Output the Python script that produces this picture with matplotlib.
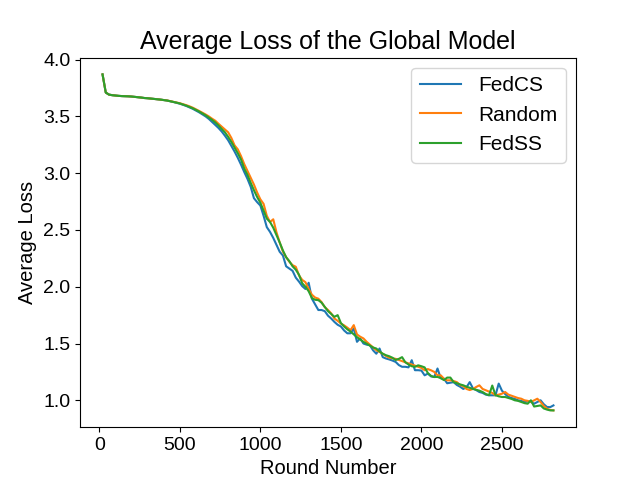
import matplotlib
matplotlib.use('Agg')
import matplotlib.pyplot as plt

plt.rcParams['font.family'] = ['Liberation Sans', 'DejaVu Sans']

# rounds 20..2820, every 20 rounds
rounds = list(range(20, 2821, 20))

fedcs = [
    3.87, 3.71, 3.692, 3.687, 3.684, 3.681, 3.679, 3.678, 3.677, 3.675,
    3.672, 3.669, 3.666, 3.662, 3.66, 3.657, 3.654, 3.651, 3.648, 3.644,
    3.64, 3.634, 3.627, 3.62, 3.612, 3.602, 3.592, 3.58, 3.567, 3.552,
    3.536, 3.518, 3.5, 3.478, 3.452, 3.425, 3.398, 3.367, 3.33, 3.29,
    3.24, 3.19, 3.135, 3.075, 3.01, 2.95, 2.88, 2.78, 2.745, 2.715,
    2.625, 2.525, 2.483, 2.43, 2.37, 2.308, 2.275, 2.18, 2.16, 2.14,
    2.08, 2.045, 2.005, 1.98, 2.035, 1.895, 1.845, 1.795, 1.795, 1.785,
    1.745, 1.72, 1.69, 1.665, 1.65, 1.615, 1.59, 1.59, 1.632, 1.515,
    1.545, 1.50, 1.49, 1.485, 1.44, 1.41, 1.456, 1.38, 1.368, 1.36,
    1.35, 1.338, 1.31, 1.295, 1.295, 1.29, 1.353, 1.265, 1.265, 1.262,
    1.22, 1.235, 1.21, 1.205, 1.28, 1.195, 1.19, 1.15, 1.155, 1.16,
    1.135, 1.12, 1.10, 1.115, 1.16, 1.105, 1.09, 1.073, 1.065, 1.05,
    1.044, 1.044, 1.044, 1.147, 1.085, 1.055, 1.03, 1.02, 1.012, 1.0,
    0.995, 0.985, 0.99, 0.985, 0.97, 0.985, 1.0, 0.965, 0.941, 0.94,
    0.955,
]

random_sel = [
    3.87, 3.71, 3.692, 3.687, 3.684, 3.681, 3.679, 3.678, 3.677, 3.675,
    3.672, 3.669, 3.666, 3.662, 3.66, 3.657, 3.654, 3.651, 3.648, 3.644,
    3.641, 3.635, 3.629, 3.623, 3.616, 3.608, 3.599, 3.589, 3.577, 3.563,
    3.548, 3.533, 3.517, 3.5, 3.48, 3.462, 3.435, 3.41, 3.385, 3.36,
    3.31, 3.245, 3.21, 3.15, 3.08, 3.02, 2.96, 2.90, 2.83, 2.77,
    2.73, 2.625, 2.57, 2.594, 2.48, 2.39, 2.31, 2.26, 2.22, 2.19,
    2.176, 2.10, 2.06, 2.04, 1.98, 1.93, 1.905, 1.895, 1.865, 1.82,
    1.795, 1.765, 1.72, 1.70, 1.676, 1.66, 1.64, 1.618, 1.662, 1.58,
    1.56, 1.545, 1.515, 1.49, 1.465, 1.441, 1.425, 1.41, 1.39, 1.375,
    1.37, 1.365, 1.355, 1.345, 1.335, 1.325, 1.315, 1.305, 1.295, 1.285,
    1.265, 1.275, 1.264, 1.25, 1.22, 1.22, 1.19, 1.176, 1.176, 1.17,
    1.16, 1.135, 1.125, 1.10, 1.09, 1.10, 1.117, 1.132, 1.10, 1.088,
    1.075, 1.065, 1.044, 1.05, 1.058, 1.073, 1.05, 1.04, 1.03, 1.02,
    1.014, 1.0, 0.995, 0.985, 1.0, 1.014, 0.985, 0.95, 0.926, 0.915,
    0.911,
]

fedss = [
    3.87, 3.71, 3.692, 3.687, 3.684, 3.681, 3.679, 3.678, 3.677, 3.675,
    3.672, 3.669, 3.666, 3.662, 3.66, 3.657, 3.654, 3.651, 3.648, 3.644,
    3.64, 3.634, 3.628, 3.621, 3.614, 3.605, 3.595, 3.584, 3.572, 3.558,
    3.543, 3.527, 3.51, 3.49, 3.47, 3.447, 3.42, 3.39, 3.36, 3.32,
    3.275, 3.225, 3.175, 3.12, 3.04, 2.985, 2.915, 2.85, 2.79, 2.74,
    2.67, 2.60, 2.57, 2.52, 2.455, 2.39, 2.32, 2.26, 2.225, 2.18,
    2.15, 2.105, 2.03, 2.0, 1.96, 1.90, 1.885, 1.882, 1.86, 1.823,
    1.785, 1.76, 1.735, 1.75, 1.68, 1.65, 1.625, 1.605, 1.58, 1.556,
    1.535, 1.515, 1.498, 1.48, 1.465, 1.456, 1.43, 1.41, 1.397, 1.388,
    1.375, 1.355, 1.365, 1.38, 1.335, 1.315, 1.30, 1.295, 1.308, 1.30,
    1.29, 1.24, 1.215, 1.205, 1.206, 1.195, 1.178, 1.20, 1.20, 1.16,
    1.15, 1.14, 1.132, 1.12, 1.11, 1.10, 1.092, 1.085, 1.073, 1.055,
    1.045, 1.13, 1.045, 1.035, 1.029, 1.029, 1.02, 1.012, 1.0, 0.995,
    0.985, 0.975, 0.97, 1.0, 0.945, 0.95, 0.955, 0.928, 0.918, 0.911,
    0.911,
]

fig, ax = plt.subplots(figsize=(6.4, 4.8), dpi=100)
ax.plot(rounds, fedcs, label='FedCS')
ax.plot(rounds, random_sel, label='Random')
ax.plot(rounds, fedss, label='FedSS')

ax.set_title('Average Loss of the Global Model', fontsize=18)
ax.set_xlabel('Round Number', fontsize=14.5)
ax.set_ylabel('Average Loss', fontsize=14.5)
ax.tick_params(labelsize=14)
ax.legend(loc='upper right', fontsize=15)

plt.savefig('out.png')
